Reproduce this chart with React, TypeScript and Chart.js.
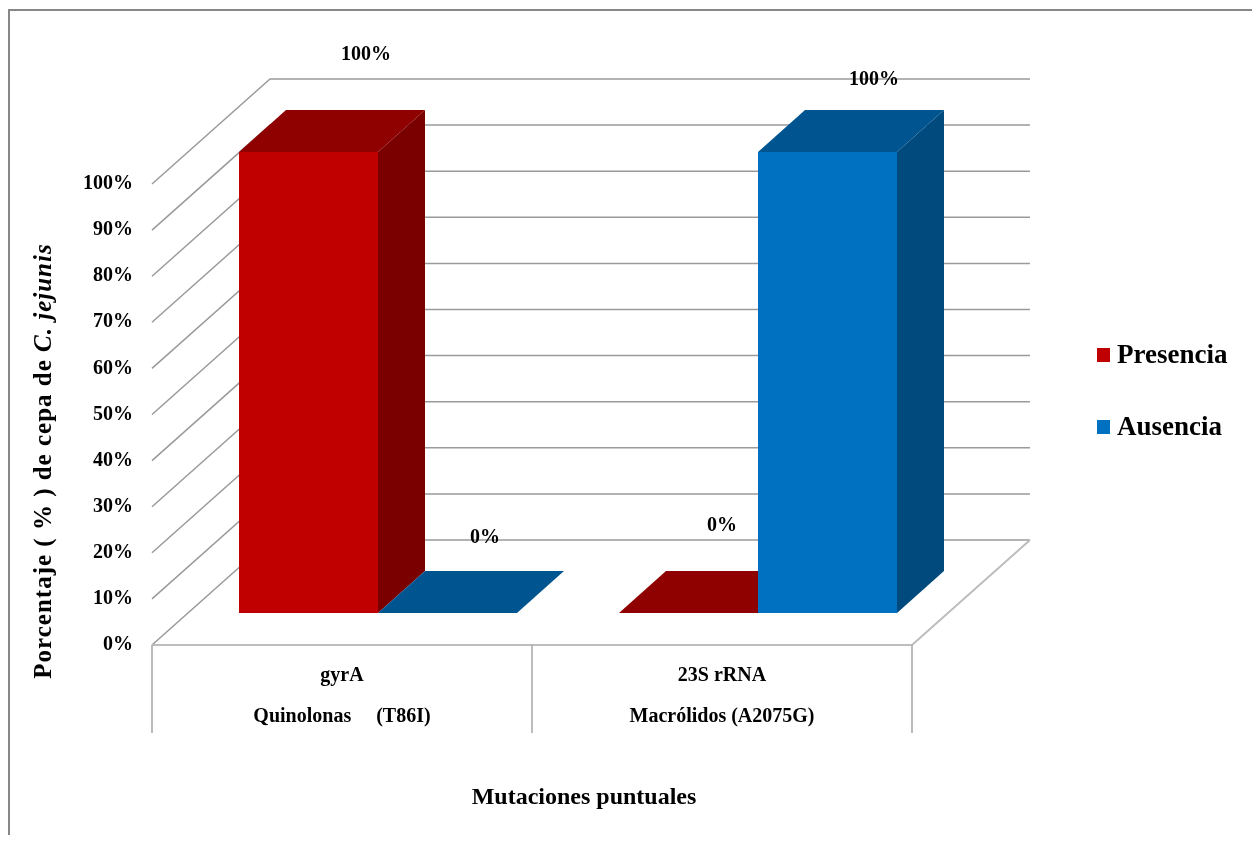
import React, { useEffect, useRef } from "react";
import { Chart, registerables } from "chart.js";

Chart.register(...registerables);

// ---------- data ----------
const categories: string[][] = [
  ["gyrA", "Quinolonas     (T86I)"],
  ["23S rRNA", "Macrólidos (A2075G)"],
];
const seriesNames = ["Presencia", "Ausencia"];
const presencia = [100, 0];
const ausencia = [0, 100];
const yMin = 0;
const yMax = 100;
const yStep = 10;
const yTitleMain = "Porcentaje ( % ) de cepa de ";
const yTitleItalic = "C. jejunis";
const xTitle = "Mutaciones puntuales";

// ---------- style ----------
const FONT = "'Liberation Serif', 'Times New Roman', serif";
const W = 1244;
const H = 827;
const WALL = { dx: 118, dy: -105 };
const SHIFT = { dx: 36, dy: -32 };
const DEPTH = { dx: 47, dy: -42 };
const FACE_COLORS = [
  { front: "#C00000", top: "#8F0000", side: "#7A0000" },
  { front: "#0070C0", top: "#005591", side: "#004A7D" },
];
// label nudges relative to the back-centre of each bar's top face [dataset][category]
const LABEL_NUDGE = [
  [[34, -55], [10, -45]],
  [[14, -33], [23, -30]],
];

const threeD = {
  id: "threeD",
  beforeDatasetsDraw(chart: any) {
    const { ctx, chartArea, scales } = chart;
    const { left, right, bottom } = chartArea;
    const y = scales.y;
    const x = scales.x;
    ctx.save();
    // back wall + side wall gridlines
    ctx.strokeStyle = "#9A9A9A";
    ctx.lineWidth = 1.5;
    y.ticks.forEach((t: any) => {
      const py = y.getPixelForValue(t.value);
      ctx.beginPath();
      ctx.moveTo(left, py);
      ctx.lineTo(left + WALL.dx, py + WALL.dy);
      ctx.lineTo(right + WALL.dx, py + WALL.dy);
      ctx.stroke();
    });
    // floor
    ctx.strokeStyle = "#BDBDBD";
    ctx.lineWidth = 2;
    ctx.beginPath();
    ctx.moveTo(left, bottom);
    ctx.lineTo(right, bottom);
    ctx.lineTo(right + WALL.dx, bottom + WALL.dy);
    ctx.stroke();
    // category separators
    const n = categories.length;
    const cw = (right - left) / n;
    ctx.strokeStyle = "#A6A6A6";
    ctx.lineWidth = 1.5;
    for (let i = 0; i <= n; i++) {
      const px = i < n ? x.getPixelForValue(i) - cw / 2 : x.getPixelForValue(n - 1) + cw / 2;
      ctx.beginPath();
      ctx.moveTo(Math.round(px), bottom);
      ctx.lineTo(Math.round(px), bottom + 88);
      ctx.stroke();
    }
    ctx.restore();

    // shift into the bars' depth plane; restored in afterDatasetsDraw
    ctx.save();
    ctx.translate(SHIFT.dx, SHIFT.dy);
    chart.data.datasets.forEach((ds: any, di: number) => {
      const meta = chart.getDatasetMeta(di);
      const c = FACE_COLORS[di];
      meta.data.forEach((el: any) => {
        const { x: bx, y: by, base, width } = el.getProps(["x", "y", "base", "width"], true);
        const l = bx - width / 2;
        const r = bx + width / 2;
        // side face
        if (base - by > 0.5) {
          ctx.fillStyle = c.side;
          ctx.beginPath();
          ctx.moveTo(r, by);
          ctx.lineTo(r + DEPTH.dx, by + DEPTH.dy);
          ctx.lineTo(r + DEPTH.dx, base + DEPTH.dy);
          ctx.lineTo(r, base);
          ctx.closePath();
          ctx.fill();
        }
        // top face
        ctx.fillStyle = c.top;
        ctx.beginPath();
        ctx.moveTo(l, by);
        ctx.lineTo(l + DEPTH.dx, by + DEPTH.dy);
        ctx.lineTo(r + DEPTH.dx, by + DEPTH.dy);
        ctx.lineTo(r, by);
        ctx.closePath();
        ctx.fill();
      });
    });
  },
  afterDatasetsDraw(chart: any) {
    const { ctx } = chart;
    ctx.restore();
    ctx.save();
    // data labels
    ctx.font = `bold 20px ${FONT}`;
    ctx.fillStyle = "#000";
    ctx.textAlign = "center";
    ctx.textBaseline = "middle";
    chart.data.datasets.forEach((ds: any, di: number) => {
      const meta = chart.getDatasetMeta(di);
      meta.data.forEach((el: any, i: number) => {
        const { x: bx, y: by } = el.getProps(["x", "y"], true);
        const ax = bx + SHIFT.dx + DEPTH.dx / 2;
        const ay = by + SHIFT.dy + DEPTH.dy;
        const [nx, ny] = LABEL_NUDGE[di][i];
        ctx.fillText(`${ds.data[i]}%`, ax + nx, ay + ny);
      });
    });

    // legend
    chart.data.datasets.forEach((ds: any, di: number) => {
      const ly = 347 + di * 72;
      ctx.fillStyle = ds.backgroundColor;
      ctx.fillRect(1089, ly - 7, 13, 14);
      ctx.fillStyle = "#000";
      ctx.font = `bold 27px ${FONT}`;
      ctx.textAlign = "left";
      ctx.textBaseline = "middle";
      ctx.fillText(ds.label, 1109, ly + 1);
    });

    // x title
    ctx.font = `bold 24px ${FONT}`;
    ctx.textAlign = "center";
    ctx.textBaseline = "middle";
    ctx.fillText(xTitle, 576, 790);

    // y title (mixed style)
    ctx.translate(37, 453);
    ctx.rotate(-Math.PI / 2);
    (ctx as any).letterSpacing = "1px";
    const f1 = `bold 25px ${FONT}`;
    const f2 = `italic bold 25px ${FONT}`;
    ctx.font = f1;
    const w1 = ctx.measureText(yTitleMain).width;
    ctx.font = f2;
    const w2 = ctx.measureText(yTitleItalic).width;
    const sx = -(w1 + w2) / 2;
    ctx.textAlign = "left";
    ctx.font = f1;
    ctx.fillText(yTitleMain, sx, 0);
    ctx.font = f2;
    ctx.fillText(yTitleItalic, sx + w1, 0);
    (ctx as any).letterSpacing = "0px";
    ctx.restore();

    // outer frame (left and top edges visible)
    ctx.save();
    ctx.strokeStyle = "#878787";
    ctx.lineWidth = 2;
    ctx.beginPath();
    ctx.moveTo(1, H);
    ctx.lineTo(1, 2);
    ctx.lineTo(W, 2);
    ctx.stroke();
    ctx.restore();
  },
};

export default function App() {
  const ref = useRef<HTMLCanvasElement | null>(null);
  useEffect(() => {
    if (!ref.current) return;
    const chart = new Chart(ref.current, {
      type: "bar",
      data: {
        labels: categories as any,
        datasets: [
          {
            label: seriesNames[0],
            data: presencia,
            backgroundColor: FACE_COLORS[0].front,
            borderWidth: 0,
            clip: false as any,
          },
          {
            label: seriesNames[1],
            data: ausencia,
            backgroundColor: FACE_COLORS[1].front,
            borderWidth: 0,
            clip: false as any,
          },
        ],
      },
      options: {
        responsive: false,
        animation: false,
        events: [],
        datasets: { bar: { categoryPercentage: 0.7316, barPercentage: 1 } },
        layout: { padding: { left: 0, top: 176, right: 340, bottom: 90 } },
        plugins: { legend: { display: false }, tooltip: { enabled: false }, title: { display: false } },
        scales: {
          x: {
            type: "category",
            grid: { display: false, drawTicks: false },
            border: { display: false },
            ticks: {
              color: "#000",
              font: { family: FONT, size: 20, weight: "bold", lineHeight: 2.05 },
              padding: 10,
              maxRotation: 0,
              autoSkip: false,
            },
            afterFit: (s: any) => {
              s.height = 100;
            },
          },
          y: {
            min: yMin,
            max: yMax,
            grid: { display: false, drawTicks: false },
            border: { display: false },
            ticks: {
              stepSize: yStep,
              color: "#000",
              font: { family: FONT, size: 20, weight: "bold" },
              padding: 19,
              callback: (v: any) => `${v}%`,
            },
            afterFit: (s: any) => {
              s.width = 144;
            },
          },
        },
      },
      plugins: [threeD],
    });
    return () => chart.destroy();
  }, []);
  return <canvas ref={ref} width={W} height={H} style={{ display: "block", width: W, height: H }} />;
}
